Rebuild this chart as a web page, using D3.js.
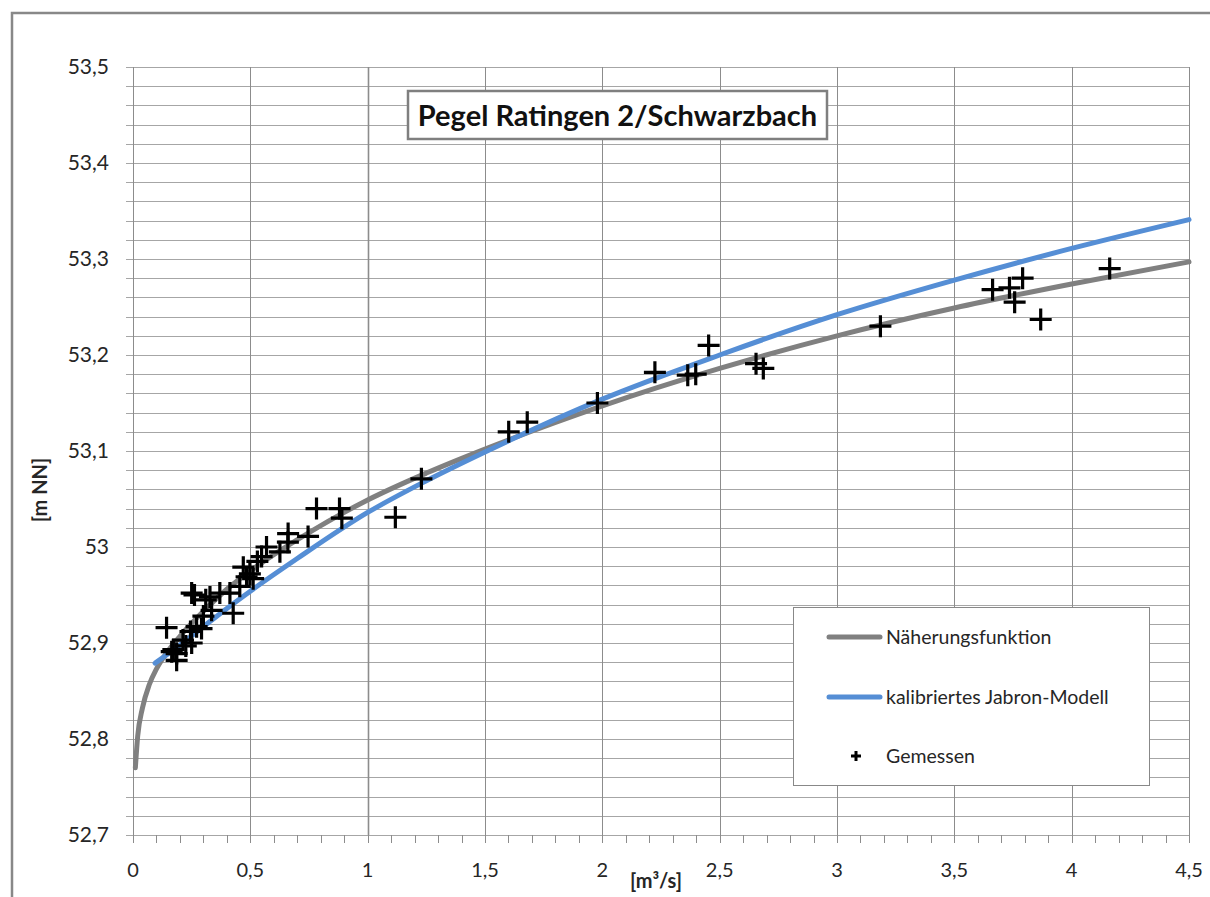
<!DOCTYPE html>
<html lang="de">
<head>
<meta charset="UTF-8">
<title>Pegel Ratingen 2/Schwarzbach</title>
<script src="https://d3js.org/d3.v7.min.js"></script>
<style>
  body { margin: 0; background: #fff; }
  svg { display: block; font-family: Lato, "Liberation Sans", sans-serif; }
</style>
</head>
<body>
<svg id="chart" width="1210" height="897"></svg>
<script>
// Messwerte (Abfluss in m³/s, Wasserstand in m NN)
const qGemessen = [0.143, 0.165, 0.172, 0.186, 0.186, 0.213, 0.225, 0.25, 0.245, 0.271,
                   0.292, 0.25, 0.262, 0.3, 0.31, 0.328, 0.335, 0.37, 0.413, 0.427,
                   0.455, 0.47, 0.484, 0.498, 0.512, 0.53, 0.548, 0.569, 0.626, 0.661,
                   0.66, 0.746, 0.782, 0.88, 0.89, 1.118, 1.229, 1.601, 1.68, 1.979,
                   2.224, 2.364, 2.398, 2.453, 2.655, 2.686, 3.185, 3.663, 3.735, 3.757,
                   3.791, 3.868, 4.162];
const hGemessen = [52.916, 52.891, 52.893, 52.882, 52.889, 52.903, 52.897, 52.900, 52.912, 52.917,
                   52.915, 52.952, 52.950, 52.928, 52.945, 52.948, 52.934, 52.952, 52.952, 52.931,
                   52.959, 52.979, 52.969, 52.972, 52.967, 52.985, 52.990, 53.000, 52.995, 53.014,
                   53.005, 53.011, 53.040, 53.040, 53.030, 53.031, 53.071, 53.120, 53.130, 53.150,
                   53.182, 53.179, 53.180, 53.210, 53.191, 53.186, 53.230, 53.268, 53.270, 53.255,
                   53.280, 53.237, 53.290];

const qNaeherung = [0.01, 0.02, 0.04, 0.07, 0.1, 0.15, 0.2, 0.3, 0.4, 0.5, 0.6, 0.75,
                    1.0, 1.25, 1.5, 2.0, 2.5, 3.0, 3.5, 4.0, 4.5];
const hNaeherung = [52.770, 52.803, 52.832, 52.857, 52.873, 52.892, 52.907, 52.933, 52.956, 52.975,
                    52.992, 53.015, 53.049, 53.077, 53.102, 53.147, 53.186, 53.220, 53.249, 53.274,
                    53.297];

const qJabron = [0.094, 0.2, 0.3, 0.4, 0.5, 0.7, 1.0, 1.25, 1.5, 2.0, 2.5, 3.0, 3.5, 4.0, 4.5];
const hJabron = [52.879, 52.898, 52.917, 52.936, 52.954, 52.988, 53.036, 53.069, 53.099, 53.154,
                 53.200, 53.242, 53.278, 53.311, 53.341];

const xTicks = [0, 0.5, 1, 1.5, 2, 2.5, 3, 3.5, 4, 4.5];
const yTicks = [52.7, 52.8, 52.9, 53.0, 53.1, 53.2, 53.3, 53.4, 53.5];

const seriesNames = ["Näherungsfunktion", "kalibriertes Jabron-Modell", "Gemessen"];
const colGray = "#808080";
const colBlue = "#558ed5";

// Plotbereich
const plot = { left: 133, top: 67, right: 1189, bottom: 835 };

const svg = d3.select("#chart");

const de = d3.formatLocale({ decimal: ",", thousands: ".", grouping: [3], currency: ["", " €"] });
const fmt = de.format(".1~f");

const x = d3.scaleLinear().domain([0, 4.5]).range([plot.left, plot.right]);
const y = d3.scaleLinear().domain([52.7, 53.5]).range([plot.bottom, plot.top]);

// äußerer Rahmen
svg.append("rect")
    .attr("x", 12).attr("y", 13)
    .attr("width", 1240).attr("height", 940)
    .attr("fill", "none")
    .attr("stroke", "#888")
    .attr("stroke-width", 2.5);

// horizontale Gitterlinien alle 0,02
const yMinor = d3.range(0, 41).map(i => 52.7 + i * 0.02);
svg.append("g")
    .selectAll("line")
    .data(yMinor)
    .join("line")
    .attr("x1", plot.left - 7).attr("x2", plot.right)
    .attr("y1", d => Math.round(y(d)) + 0.5)
    .attr("y2", d => Math.round(y(d)) + 0.5)
    .attr("stroke", "#a6a6a6")
    .attr("stroke-width", 1);

// vertikale Gitterlinien alle 0,5
svg.append("g")
    .selectAll("line")
    .data(xTicks)
    .join("line")
    .attr("x1", d => Math.round(x(d)) + 0.5)
    .attr("x2", d => Math.round(x(d)) + 0.5)
    .attr("y1", plot.top).attr("y2", plot.bottom)
    .attr("stroke", "#8c8c8c")
    .attr("stroke-width", d => d === 1 ? 1.6 : 1);

// x-Achse: Striche alle 0,1
const xMinor = d3.range(0, 46).map(i => i * 0.1);
svg.append("g")
    .selectAll("line")
    .data(xMinor)
    .join("line")
    .attr("x1", d => Math.round(x(d)) + 0.5)
    .attr("x2", d => Math.round(x(d)) + 0.5)
    .attr("y1", plot.bottom).attr("y2", plot.bottom + 8)
    .attr("stroke", "#8c8c8c");

// Achsenbeschriftungen
svg.append("g")
    .selectAll("text")
    .data(yTicks)
    .join("text")
    .attr("x", 109)
    .attr("y", d => y(d))
    .attr("dy", "0.35em")
    .attr("text-anchor", "end")
    .attr("font-size", "21px")
    .attr("fill", "#262626")
    .text(d => fmt(d));

svg.append("g")
    .selectAll("text")
    .data(xTicks)
    .join("text")
    .attr("x", d => x(d))
    .attr("y", 877)
    .attr("text-anchor", "middle")
    .attr("font-size", "20px")
    .attr("fill", "#262626")
    .text(d => fmt(d));

// Achsentitel
svg.append("text")
    .attr("transform", "translate(47, 490) rotate(-90)")
    .attr("text-anchor", "middle")
    .attr("font-size", "20px")
    .attr("font-weight", "bold")
    .attr("fill", "#262626")
    .text("[m NN]");

svg.append("text")
    .attr("x", 656)
    .attr("y", 888)
    .attr("text-anchor", "middle")
    .attr("font-size", "20px")
    .attr("font-weight", "bold")
    .attr("fill", "#262626")
    .text("[m³/s]");

// Kurven
const line = d3.line()
    .x(d => x(d[0]))
    .y(d => y(d[1]))
    .curve(d3.curveMonotoneX);

svg.append("path")
    .datum(d3.zip(qNaeherung, hNaeherung))
    .attr("d", line)
    .attr("fill", "none")
    .attr("stroke", colGray)
    .attr("stroke-width", 5)
    .attr("stroke-linecap", "round");

svg.append("path")
    .datum(d3.zip(qJabron, hJabron))
    .attr("d", line)
    .attr("fill", "none")
    .attr("stroke", colBlue)
    .attr("stroke-width", 5)
    .attr("stroke-linecap", "round");

// Messpunkte als Kreuze
const pts = d3.zip(qGemessen, hGemessen);
svg.append("g")
    .selectAll("path")
    .data(pts)
    .join("path")
    .attr("transform", d => `translate(${x(d[0])}, ${y(d[1])})`)
    .attr("d", "M-11,0H11M0,-11V11")
    .attr("stroke", "#000")
    .attr("stroke-width", 3.2);

// Titel
const titleG = svg.append("g");
titleG.append("rect")
    .attr("x", 408).attr("y", 91)
    .attr("width", 419).attr("height", 48)
    .attr("fill", "#fff")
    .attr("stroke", "#7f7f7f")
    .attr("stroke-width", 2.5);
titleG.append("text")
    .attr("x", 617.5)
    .attr("y", 126)
    .attr("text-anchor", "middle")
    .attr("font-size", "29px")
    .attr("font-weight", "bold")
    .attr("fill", "#111")
    .text("Pegel Ratingen 2/Schwarzbach");

// Legende
const leg = svg.append("g");
leg.append("rect")
    .attr("x", 793.5).attr("y", 607.5)
    .attr("width", 356).attr("height", 178)
    .attr("fill", "#fff")
    .attr("stroke", "#888")
    .attr("stroke-width", 1);

const legY = [637, 697, 756];
[colGray, colBlue].forEach((c, i) => {
    leg.append("line")
        .attr("x1", 829).attr("x2", 880)
        .attr("y1", legY[i]).attr("y2", legY[i])
        .attr("stroke", c)
        .attr("stroke-width", 5)
        .attr("stroke-linecap", "round");
});
leg.append("path")
    .attr("transform", `translate(856, ${legY[2]})`)
    .attr("d", "M-5,0H5M0,-5V5")
    .attr("stroke", "#000")
    .attr("stroke-width", 3);

leg.selectAll("text.lab")
    .data(seriesNames)
    .join("text")
    .attr("class", "lab")
    .attr("x", 886)
    .attr("y", (d, i) => legY[i])
    .attr("dy", "0.35em")
    .attr("font-size", "19.5px")
    .attr("fill", "#262626")
    .text(d => d);
</script>
</body>
</html>
